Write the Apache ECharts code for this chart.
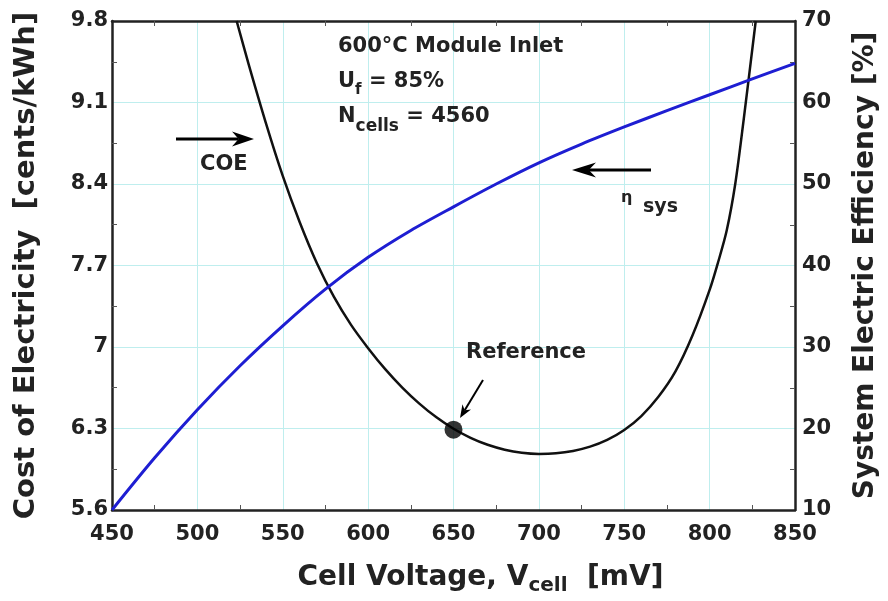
<!DOCTYPE html>
<html><head><meta charset="utf-8">
<script src="https://cdn.jsdelivr.net/npm/echarts@6/dist/echarts.min.js"></script>
<style>html,body{margin:0;padding:0;background:#fff}#c{width:888px;height:601px}</style>
</head><body><div id="c"></div>
<script>
// Efficiency curve (right axis, %)
const effVoltage = [450,475,500,525,550,575,600,625,650,675,700,725,750,775,800,825,850];
const efficiency = [10,16.4,22.3,27.7,32.6,37.1,41.0,44.3,47.2,50.0,52.6,54.9,57.0,59.0,60.95,62.9,64.8];
// Cost of electricity curve (left axis, cents/kWh)
const coeVoltage = [523,530,540,550,560,570,580,590,600,610,620,630,640,650,660,670,680,690,700,710,720,730,740,750,760,770,780,790,800,805,810,815,820,827];
const coeValues  = [9.8,9.43,8.93,8.47,8.07,7.72,7.43,7.19,6.99,6.81,6.652,6.514,6.396,6.298,6.22,6.16,6.118,6.092,6.082,6.087,6.107,6.144,6.202,6.287,6.407,6.572,6.79,7.1,7.49,7.73,8.0,8.4,8.96,9.8];
// Reference design point
const refVoltage = [650];
const refCOE = [6.29];
// Tick labels
const xTickLabels = ['450','500','550','600','650','700','750','800','850'];
const leftTickLabels = ['5.6','6.3','7','7.7','8.4','9.1','9.8'];
const rightTickLabels = ['10','20','30','40','50','60','70'];

const FF = '"DejaVu Sans", sans-serif';
const TXT = '#222';
const chart = echarts.init(document.getElementById('c'), null, {renderer:'canvas'});

const axisLine = {show:true, lineStyle:{color:'#222', width:2.5}};
const minorTick = {show:true, splitNumber:2, length:5, lineStyle:{color:'#555', width:1}};
const gridLine = {show:true, lineStyle:{color:'#bfeeee', width:1}};

function arrow(x1,y1,x2,y2,w,hl,hw){
  const dx=x2-x1, dy=y2-y1, L=Math.hypot(dx,dy), ux=dx/L, uy=dy/L, px=-uy, py=ux;
  const bx=x2-ux*hl, by=y2-uy*hl, nx=x2-ux*hl*0.7, ny=y2-uy*hl*0.7;
  return [
    {type:'line', shape:{x1:x1,y1:y1,x2:nx,y2:ny}, style:{stroke:'#000', lineWidth:w}, z:100},
    {type:'polygon', shape:{points:[[x2,y2],[bx+px*hw,by+py*hw],[nx,ny],[bx-px*hw,by-py*hw]]}, style:{fill:'#000'}, z:100}
  ];
}

const subRich = (mainSize, subSize, lh) => ({
  m:{fontFamily:FF, fontWeight:'bold', fontSize:mainSize, color:TXT, fill:TXT, verticalAlign:'middle', lineHeight:lh},
  s:{fontFamily:FF, fontWeight:'bold', fontSize:subSize, color:TXT, fill:TXT, verticalAlign:'bottom', lineHeight:subSize}
});

const option = {
  animation:false,
  backgroundColor:'#fff',
  grid:{left:112, right:93, top:21, bottom:91, containLabel:false},
  xAxis:[{
    type:'value', position:'bottom', min:450, max:850, interval:50,
    axisLine:axisLine, axisTick:{show:false, inside:true}, minorTick:minorTick,
    splitLine:gridLine,
    axisLabel:{margin:14, fontFamily:FF, fontWeight:'bold', fontSize:21, color:TXT,
      formatter:(v)=>xTickLabels[Math.round((v-450)/50)]},
    name:'{m|Cell Voltage, V}{s|cell}{m|  [mV]}', nameLocation:'middle', nameGap:50,
    nameTextStyle:{padding:[0,0,0,54], rich:subRich(28,20,36)}
  },{
    type:'value', position:'top', min:450, max:850, interval:50,
    axisLine:axisLine, axisTick:{show:false, inside:true}, minorTick:minorTick,
    splitLine:{show:false}, axisLabel:{show:false}
  }],
  yAxis:[{
    type:'value', position:'left', min:5.6, max:9.8, interval:0.7,
    axisLine:axisLine, axisTick:{show:false, inside:true}, minorTick:minorTick,
    splitLine:gridLine,
    axisLabel:{margin:4, fontFamily:FF, fontWeight:'bold', fontSize:21, color:TXT,
      formatter:(v)=>leftTickLabels[Math.round((v-5.6)/0.7)]},
    name:'Cost of Electricity  [cents/kWh]', nameLocation:'middle', nameRotate:90, nameGap:71,
    nameTextStyle:{fontFamily:FF, fontWeight:'bold', fontSize:29, color:TXT}
  },{
    type:'value', position:'right', min:10, max:70, interval:10,
    axisLine:axisLine, axisTick:{show:false, inside:true}, minorTick:minorTick,
    splitLine:{show:false},
    axisLabel:{margin:7, fontFamily:FF, fontWeight:'bold', fontSize:21, color:TXT,
      formatter:(v)=>rightTickLabels[Math.round((v-10)/10)]},
    name:'System Electric Efficiency [%]', nameLocation:'middle', nameRotate:90, nameGap:57,
    nameTextStyle:{fontFamily:FF, fontWeight:'bold', fontSize:28, color:TXT}
  }],
  series:[{
    name:'COE', type:'line', xAxisIndex:0, yAxisIndex:0, smooth:0.3, showSymbol:false, clip:true,
    data:coeVoltage.map((v,i)=>[v,coeValues[i]]),
    lineStyle:{color:'#111', width:2.5}, z:3
  },{
    name:'eta_sys', type:'line', xAxisIndex:0, yAxisIndex:1, smooth:0.3, showSymbol:false, clip:true,
    data:effVoltage.map((v,i)=>[v,efficiency[i]]),
    lineStyle:{color:'#1e1ed2', width:3}, z:4
  },{
    name:'Reference', type:'scatter', xAxisIndex:0, yAxisIndex:0, symbol:'circle', symbolSize:18,
    data:refVoltage.map((v,i)=>[v,refCOE[i]]),
    itemStyle:{color:'#000'}, z:5
  }],
  graphic:[
    {type:'text', x:338, y:47, z:100, style:{text:'600°C Module Inlet', font:'bold 21px '+FF, fill:TXT, verticalAlign:'middle'}},
    {type:'text', x:338, y:82, z:100, style:{text:'{m|U}{s|f}{m| = 85%}', rich:subRich(21,15,32), verticalAlign:'middle'}},
    {type:'text', x:338, y:117, z:100, style:{text:'{m|N}{s|cells}{m| = 4560}', rich:subRich(21,17,36), verticalAlign:'middle'}},
    {type:'text', x:200, y:165, z:100, style:{text:'COE', font:'bold 21px '+FF, fill:TXT, verticalAlign:'middle'}},
    {type:'text', x:466, y:353, z:100, style:{text:'Reference', font:'bold 21px '+FF, fill:TXT, verticalAlign:'middle'}},
    {type:'text', x:621, y:198, z:100, style:{text:'η', font:'bold 16px '+FF, fill:TXT, verticalAlign:'middle'}},
    {type:'text', x:643, y:207, z:100, style:{text:'sys', font:'bold 19px '+FF, fill:TXT, verticalAlign:'middle'}},
    ...arrow(176,139,254,139,3,22,7.5),
    ...arrow(651,170,572,170,3,24,7.5),
    ...arrow(483,380,460,418,2,13,5)
  ]
};
chart.setOption(option);
</script></body></html>
